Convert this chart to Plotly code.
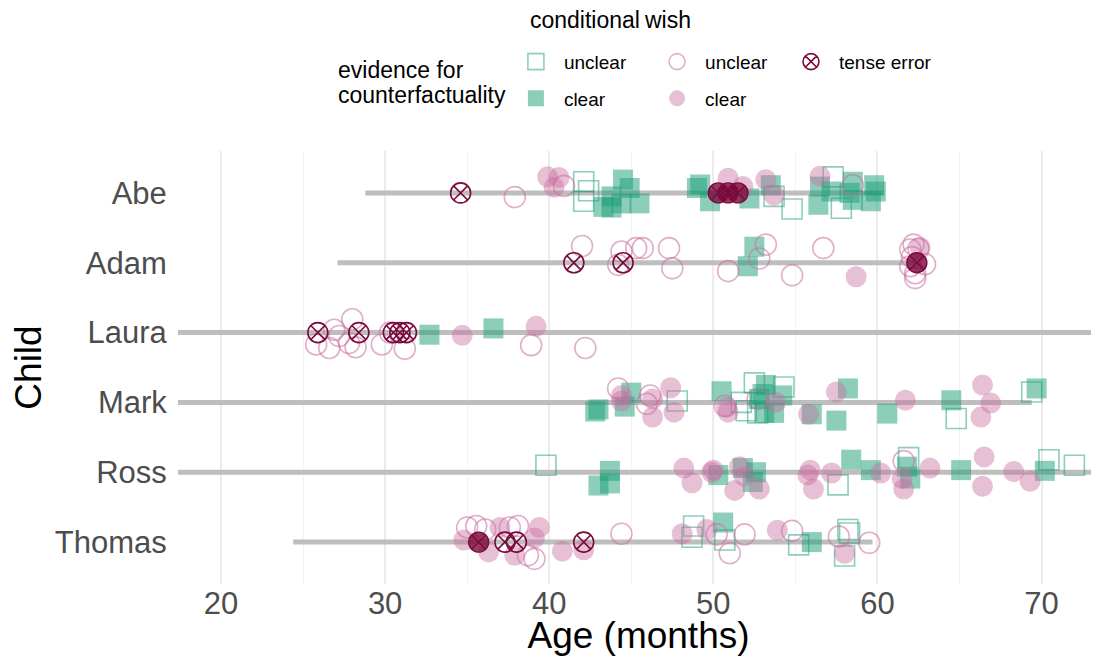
import plotly.graph_objects as go

# ---------------- data ----------------
children = ["Abe", "Adam", "Laura", "Mark", "Ross", "Thomas"]
row_pos = {"Abe": 5, "Adam": 4, "Laura": 3, "Mark": 2, "Ross": 1, "Thomas": 0}

# observed age span of each child's transcripts (months)
span_start = [28.8, 27.1, 15.0, 7.0, 12.0, 24.4]
span_end = [60.4, 62.4, 84.0, 69.4, 90.0, 59.7]

# conditional, unclear evidence
cu_child = (["Abe"] * 7 + ["Mark"] * 8 + ["Ross"] * 5 + ["Thomas"] * 7)
cu_age = [42.1, 42.4, 42.1, 53.7, 54.8, 57.3, 57.8,
          47.8, 52.5, 54.3, 51.7, 52.0, 52.7, 64.8, 69.4,
          39.8, 57.6, 61.9, 70.45, 72.0,
          48.8, 48.7, 50.7, 55.2, 58.2, 58.3, 58.0]
cu_jit = [0.16, 0.03, -0.12, -0.05, -0.23, 0.23, -0.22,
          0.02, 0.28, 0.22, 0.0, -0.12, -0.15, -0.23, 0.15,
          0.10, -0.18, 0.21, 0.18, 0.10,
          0.23, 0.07, 0.03, -0.04, 0.18, 0.13, -0.20]

# conditional, clear evidence
cc_child = (["Abe"] * 21 + ["Adam"] * 2 + ["Laura"] * 2 + ["Mark"] * 17
            + ["Ross"] * 13 + ["Thomas"] * 2)
cc_age = [43.3, 43.8, 44.5, 44.9, 44.4, 45.5, 43.8, 49.0, 49.2,
          49.8, 52.2, 53.5, 56.4, 56.5, 57.2, 58.5, 58.5, 59.6, 59.8, 59.9, 58.3,
          52.5, 52.1,
          32.7, 36.6,
          42.8, 43.0, 45.0, 44.6, 50.5, 53.2, 53.0, 54.2, 53.1, 53.7, 52.8,
          56.0, 58.2, 57.5, 60.6, 64.5, 69.7,
          43.7, 43.0, 43.7, 50.3, 51.8, 52.6, 52.4, 58.4, 59.6, 61.8, 62.0, 65.1, 70.2,
          50.6, 56.0]
cc_jit = [-0.20, -0.05, 0.19, 0.07, -0.15, -0.15, -0.21, 0.07, 0.12,
          -0.12, -0.08, 0.11, -0.17, 0.09, 0.02, 0.16, -0.10, -0.12, 0.11, 0.02, 0.0,
          0.23, -0.05,
          -0.03, 0.06,
          -0.13, -0.10, 0.14, -0.06, 0.16, 0.25, 0.12, 0.10, -0.15, -0.15, 0.05,
          -0.17, 0.20, -0.26, -0.16, 0.03, 0.20,
          0.02, -0.19, -0.16, -0.04, 0.06, 0.0, -0.14, 0.18, 0.03, 0.08, -0.09, 0.03, 0.02,
          0.28, 0.0]

# wish, unclear evidence
wu_child = (["Abe"] * 3 + ["Adam"] * 20 + ["Laura"] * 12 + ["Mark"] * 5
            + ["Ross"] * 1 + ["Thomas"] * 14)
wu_age = [37.9, 40.9, 58.5,
          42.0, 44.4, 44.2, 45.3, 45.7, 47.3, 47.5, 50.9, 53.2, 52.8, 54.8, 56.7,
          62.2, 62.0, 62.5, 62.1, 62.0, 62.3, 62.3, 62.9,
          25.8, 26.6, 26.9, 27.2, 28.0, 27.8, 28.2, 29.8, 30.3, 31.2, 38.9, 42.2,
          44.2, 46.15, 45.95, 50.7, 52.7,
          61.6,
          35.0, 35.55, 36.1, 37.6, 38.1, 39.1, 38.7, 44.4, 50.2, 51.0, 51.9, 54.8, 57.65, 59.5]
wu_jit = [-0.06, 0.10, 0.11,
          0.24, 0.16, -0.03, 0.21, 0.21, 0.21, -0.08, -0.12, 0.26, 0.06, -0.18, 0.21,
          0.26, 0.19, 0.20, 0.08, -0.05, -0.15, -0.22, -0.02,
          -0.17, -0.22, 0.04, -0.05, 0.19, -0.15, -0.21, -0.17, 0.0, -0.23, -0.18, -0.22,
          0.20, 0.10, -0.02, -0.05, 0.05,
          0.16,
          0.21, 0.23, 0.18, 0.21, 0.23, -0.24, -0.19, 0.12, 0.11, -0.16, 0.11, 0.16, 0.08, -0.01]

# wish, clear evidence
wc_child = (["Abe"] * 8 + ["Adam"] * 2 + ["Laura"] * 2 + ["Mark"] * 15
            + ["Ross"] * 20 + ["Thomas"] * 12)
wc_age = [39.9, 40.6, 40.3, 50.9, 51.8, 53.2, 53.7, 56.5,
          58.7, 62.6,
          34.7, 39.2,
          44.4, 44.4, 46.3, 46.3, 47.4, 47.6, 50.8, 50.9, 53.8, 55.8, 57.5, 61.7,
          66.4, 66.9, 66.3,
          48.2, 48.7, 49.9, 50.0, 51.6, 51.3, 51.9, 52.8, 55.9, 55.75, 56.1, 57.2,
          60.2, 61.5, 61.6, 63.2, 66.5, 66.4, 68.3, 69.3,
          34.8, 37.0, 39.4, 39.1, 36.3, 37.9, 40.8, 42.1, 48.1, 49.6, 53.9, 58.0]
wc_jit = [0.23, 0.22, 0.08, 0.21, 0.09, 0.19, -0.03, 0.24,
          -0.20, 0.22,
          -0.04, 0.09,
          0.10, 0.02, -0.21, 0.05, 0.21, -0.14, -0.07, -0.14, 0.0, -0.17, 0.15, 0.03,
          0.25, -0.01, -0.21,
          0.06, -0.15, 0.0, 0.03, 0.08, -0.26, -0.06, -0.24, 0.03, -0.04, -0.24, -0.01,
          -0.01, -0.09, -0.24, 0.06, 0.22, -0.20, 0.01, -0.13,
          0.03, 0.21, 0.21, 0.06, -0.14, -0.19, -0.13, -0.11, 0.12, 0.18, 0.17, -0.16]

# tense errors (open marker)
te_child = ["Abe"] + ["Adam"] * 2 + ["Laura"] * 5 + ["Thomas"] * 3
te_age = [34.6, 41.5, 44.5, 25.9, 28.4, 30.5, 30.9, 31.3, 37.3, 38.0, 42.1]
te_jit = [0.0] * 11

# tense errors drawn filled
tf_child = ["Abe"] * 3 + ["Adam"] + ["Thomas"]
tf_age = [50.3, 50.9, 51.5, 62.4, 35.7]
tf_jit = [0.0] * 5

# ---------------- styling ----------------
GREEN_FILL = "rgba(27,158,119,0.5)"
GREEN_LINE = "rgba(27,158,119,0.5)"
PINK_FILL = "rgba(200,110,160,0.43)"
PINK_LINE = "rgba(200,110,160,0.55)"
TENSE = "rgb(122,10,60)"
FONT = "Liberation Sans, Arial, Helvetica, sans-serif"
MS = 20


def ys(child_list, jit_list):
    return [row_pos[c] + j for c, j in zip(child_list, jit_list)]


fig = go.Figure()

# age-span lines
for c, s, e in zip(children, span_start, span_end):
    fig.add_trace(go.Scatter(
        x=[s, e], y=[row_pos[c], row_pos[c]], mode="lines",
        line=dict(color="#bebebe", width=5), showlegend=False, hoverinfo="skip"))

fig.add_trace(go.Scatter(
    x=cu_age, y=ys(cu_child, cu_jit), mode="markers", name="unclear",
    legend="legend", legendgroup="cu",
    marker=dict(symbol="square-open", size=MS, color=GREEN_LINE,
                line=dict(width=1.6, color=GREEN_LINE))))
fig.add_trace(go.Scatter(
    x=cc_age, y=ys(cc_child, cc_jit), mode="markers", name="clear",
    legend="legend", legendgroup="cc",
    marker=dict(symbol="square", size=MS, color=GREEN_FILL, line=dict(width=0))))
fig.add_trace(go.Scatter(
    x=wu_age, y=ys(wu_child, wu_jit), mode="markers", name="unclear",
    legend="legend2", legendgroup="wu",
    marker=dict(symbol="circle-open", size=MS + 1, color=PINK_LINE,
                line=dict(width=1.6, color=PINK_LINE))))
fig.add_trace(go.Scatter(
    x=wc_age, y=ys(wc_child, wc_jit), mode="markers", name="clear",
    legend="legend2", legendgroup="wc",
    marker=dict(symbol="circle", size=MS + 1, color=PINK_FILL, line=dict(width=0))))
fig.add_trace(go.Scatter(
    x=tf_age, y=ys(tf_child, tf_jit), mode="markers", name="tense error",
    showlegend=False,
    marker=dict(symbol="circle-x", size=MS, color="rgba(122,10,60,0.8)",
                line=dict(width=1.4, color=TENSE))))
fig.add_trace(go.Scatter(
    x=te_age, y=ys(te_child, te_jit), mode="markers", name="tense error",
    legend="legend3", legendgroup="te",
    marker=dict(symbol="circle-x-open", size=MS, color=TENSE,
                line=dict(width=1.6, color=TENSE))))

leg_common = dict(font=dict(size=19, family=FONT, color="#000000"),
                  bgcolor="rgba(0,0,0,0)", orientation="v",
                  yanchor="top", xanchor="left", tracegroupgap=9,
                  itemsizing="trace", itemwidth=46)

# the page body has an 8px margin, so the figure is offset by 8px
fig.update_layout(
    width=1091, height=648,
    margin=dict(l=170, r=0, t=143, b=72, autoexpand=False),
    paper_bgcolor="white", plot_bgcolor="white",
    font=dict(family=FONT),
    legend=dict(x=0.3582, y=1.25, **leg_common),
    legend2=dict(x=0.5115, y=1.25, **leg_common),
    legend3=dict(x=0.6569, y=1.25, **leg_common),
    xaxis=dict(
        range=[17.38, 73.5], tickvals=[20, 30, 40, 50, 60, 70],
        showgrid=True, gridcolor="#ebebeb", gridwidth=1.5, zeroline=False,
        minor=dict(dtick=5, tick0=0, showgrid=True, gridcolor="#f3f3f3", gridwidth=1),
        ticks="outside", ticklen=1, tickcolor="rgba(0,0,0,0)",
        ticklabelstandoff=-9,
        tickfont=dict(size=31, color="#4d4d4d", family=FONT),
        title=dict(text="Age (months)", font=dict(size=37, color="#000000", family=FONT),
                   standoff=4),
        automargin=False, showline=False, fixedrange=True),
    yaxis=dict(
        range=[-0.6, 5.6], tickvals=[row_pos[c] for c in children], ticktext=children,
        showgrid=False, zeroline=False,
        ticks="outside", ticklen=4, tickcolor="rgba(0,0,0,0)",
        tickfont=dict(size=31, color="#4d4d4d", family=FONT),
        title=dict(text="Child", font=dict(size=37, color="#000000", family=FONT),
                   standoff=18),
        automargin=False, showline=False, fixedrange=True),
    annotations=[
        dict(text="conditional", x=0.3804, y=1.3025, xref="paper", yref="paper",
             xanchor="left", yanchor="middle", showarrow=False,
             font=dict(size=23, family=FONT, color="#000000")),
        dict(text="wish", x=0.5038, y=1.3025, xref="paper", yref="paper",
             xanchor="left", yanchor="middle", showarrow=False,
             font=dict(size=23, family=FONT, color="#000000")),
        dict(text="evidence for", x=0.1719, y=1.1871,
             xref="paper", yref="paper", xanchor="left", yanchor="middle",
             align="left", showarrow=False,
             font=dict(size=23, family=FONT, color="#000000")),
        dict(text="counterfactuality", x=0.1719, y=1.1293,
             xref="paper", yref="paper", xanchor="left", yanchor="middle",
             align="left", showarrow=False,
             font=dict(size=23, family=FONT, color="#000000")),
    ],
)

fig.write_html("out.html")
